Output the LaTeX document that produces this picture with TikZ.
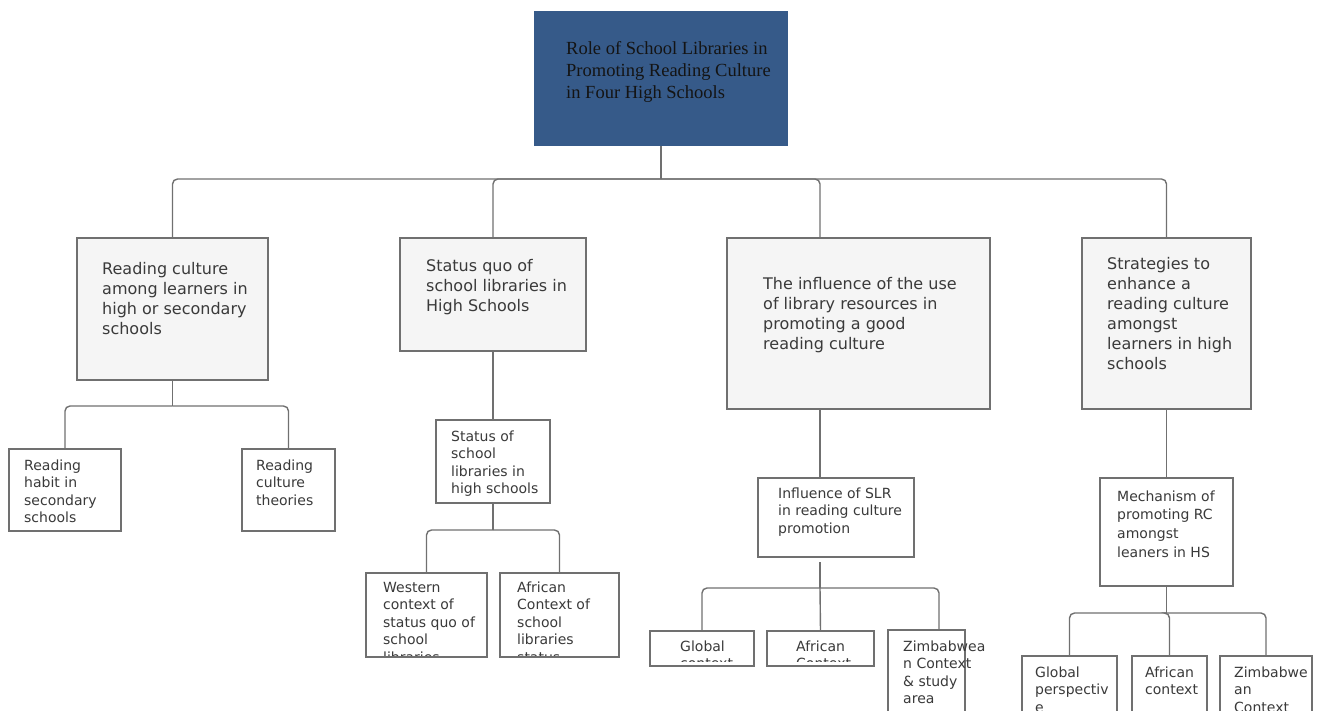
\documentclass[tikz,border=0pt]{standalone}
\usepackage{fontspec}
\newfontfamily\dvs{DejaVu Sans}
\newfontfamily\lserif{Liberation Serif}
\usetikzlibrary{calc}
\definecolor{topblue}{HTML}{365A89}
\definecolor{linegray}{HTML}{707070}
\definecolor{boxfill}{HTML}{F5F5F5}
\definecolor{txtgray}{HTML}{3A3A3A}
\newcommand\tstrut{\rule{0pt}{0.8em}}
\begin{document}
\begin{tikzpicture}[x=1pt,y=-1pt,
 box/.style={draw=linegray, line width=1.3pt, fill=white, inner sep=0pt, outer sep=0pt},
 mainbox/.style={box, fill=boxfill},
 topbox/.style={fill=topblue, draw=none, inner sep=0pt, outer sep=0pt},
 conn/.style={draw=linegray, line width=1.4pt, rounded corners=5pt},
 bigtxt/.style={anchor=north west, inner sep=0pt, align=left, text=txtgray, font=\dvs\fontsize{16}{20}\selectfont},
 smalltxt/.style={anchor=north west, inner sep=0pt, align=left, text=txtgray, font=\dvs\fontsize{14}{17.5}\selectfont},
 toptxt/.style={anchor=north west, inner sep=0pt, align=left, text=black!92, font=\lserif\fontsize{18.5}{22}\selectfont},
]
\useasboundingbox (0,0) rectangle (1317,711);
\clip (0,0) rectangle (1317,711);

% boxes
\node[topbox, minimum width=254pt, minimum height=135pt] (top) at (661,78.5) {};
\node[mainbox, minimum width=191pt, minimum height=142pt] (b1) at (172.5,309) {};
\node[mainbox, minimum width=186pt, minimum height=113pt] (b2) at (493,294.5) {};
\node[mainbox, minimum width=263pt, minimum height=171pt] (b3) at (858.5,323.5) {};
\node[mainbox, minimum width=169pt, minimum height=171pt] (b4) at (1166.5,323.5) {};
\node[box, minimum width=112pt, minimum height=82pt] (c1) at (65,490) {};
\node[box, minimum width=93pt, minimum height=82pt] (c2) at (288.5,490) {};
\node[box, minimum width=114pt, minimum height=83pt] (d) at (493,461.5) {};
\node[box, minimum width=121pt, minimum height=84pt] (e1) at (426.5,615) {};
\node[box, minimum width=119pt, minimum height=84pt] (e2) at (559.5,615) {};
\node[box, minimum width=156pt, minimum height=79pt] (f) at (836,517.5) {};
\node[box, minimum width=104pt, minimum height=35pt] (g1) at (702,648.5) {};
\node[box, minimum width=107pt, minimum height=35pt] (g2) at (820.5,648.5) {};
\node[box, minimum width=77pt, minimum height=90pt] (g3) at (926.5,675) {};
\node[box, minimum width=133pt, minimum height=108pt] (h) at (1166.5,532) {};
\node[box, minimum width=95pt, minimum height=64pt] (i1) at (1069.5,688) {};
\node[box, minimum width=75pt, minimum height=64pt] (i2) at (1169.5,688) {};
\node[box, minimum width=92pt, minimum height=64pt] (i3) at (1266,688) {};

% junctions
\coordinate (j0) at (661,179);
\coordinate (j1) at (172.5,406);
\coordinate (j2) at (493,530);
\coordinate (fs) at (820,562);
\coordinate (j3) at (820,588);
\coordinate (j4) at (1166.5,613);

% connectors
\draw[conn] (top.south) -- (j0);
\draw[conn] (j0) -| (b1.north);
\draw[conn] (j0) -| (b2.north);
\draw[conn] (j0) -| ([xshift=-38.5pt]b3.north);
\draw[conn] (j0) -| (b4.north);
\draw[conn] (b1.south) -- (j1);
\draw[conn] (j1) -| (c1.north);
\draw[conn] (j1) -| (c2.north);
\draw[conn] (b2.south) -- (d.north);
\draw[conn] (d.south) -- (j2);
\draw[conn] (j2) -| (e1.north);
\draw[conn] (j2) -| (e2.north);
\draw[conn] ([xshift=-38.5pt]b3.south) -- ([xshift=-16pt]f.north);
\draw[conn] (fs) -- (j3);
\draw[conn] (j3) -| (g1.north);
\draw[conn] (j3) -- (g2.north);
\draw[conn] (j3) -| ([xshift=12.5pt]g3.north);
\draw[conn] (b4.south) -- (h.north);
\draw[conn] (h.south) -- (j4);
\draw[conn] (j4) -| (i1.north);
\draw[conn] (j4) -| (i2.north);
\draw[conn] (j4) -| (i3.north);

% texts
\node[toptxt] (ttop) at (566,39.8) {\tstrut Role of School Libraries in\\Promoting Reading Culture\\in Four High Schools};
\node[bigtxt] (tb1) at (102,261.2) {\tstrut Reading culture\\among learners in\\high or secondary\\schools};
\node[bigtxt] (tb2) at (426,258.2) {\tstrut Status quo of\\school libraries in\\High Schools};
\node[bigtxt] (tb3) at (763,276.2) {\tstrut The influence of the use\\of library resources in\\promoting a good\\reading culture};
\node[bigtxt] (tb4) at (1107,256.2) {\tstrut Strategies to\\enhance a\\reading culture\\amongst\\learners in high\\schools};
\node[smalltxt] (tc1) at (24,458.8) {\tstrut Reading\\habit in\\secondary\\schools};
\node[smalltxt] (tc2) at (256,458.8) {\tstrut Reading\\culture\\theories};
\node[smalltxt] (td) at (451,429.8) {\tstrut Status of\\school\\libraries in\\high schools};
\begin{scope}
\clip ([yshift=2pt]e1.south west) rectangle (e1.north east);
\node[smalltxt] (te1) at (383,580.8) {\tstrut Western\\context of\\status quo of\\school\\libraries};
\end{scope}
\begin{scope}
\clip ([yshift=2pt]e2.south west) rectangle (e2.north east);
\node[smalltxt] (te2) at (517,580.8) {\tstrut African\\Context of\\school\\libraries\\status};
\end{scope}
\node[smalltxt] (tf) at (778,486.8) {\tstrut Influence of SLR\\in reading culture\\promotion};
\begin{scope}
\clip ([yshift=5pt]g1.south west) rectangle (g1.north east);
\node[smalltxt] (tg1) at (680,639.8) {\tstrut Global\\context};
\end{scope}
\begin{scope}
\clip ([yshift=5pt]g2.south west) rectangle (g2.north east);
\node[smalltxt] (tg2) at (796,639.8) {\tstrut African\\Context};
\end{scope}
\node[smalltxt] (tg3) at (903,639.8) {\tstrut Zimbabwea\\n Context\\\& study\\area};
\node[smalltxt, font=\dvs\fontsize{14}{18.7}\selectfont] (th) at (1117,489.8) {\tstrut Mechanism of\\promoting RC\\amongst\\leaners in HS};
\node[smalltxt] (ti1) at (1035,665.8) {\tstrut Global\\perspectiv\\e};
\node[smalltxt] (ti2) at (1145,665.8) {\tstrut African\\context};
\node[smalltxt] (ti3) at (1234,665.8) {\tstrut Zimbabwe\\an\\Context};
\end{tikzpicture}
\end{document}
